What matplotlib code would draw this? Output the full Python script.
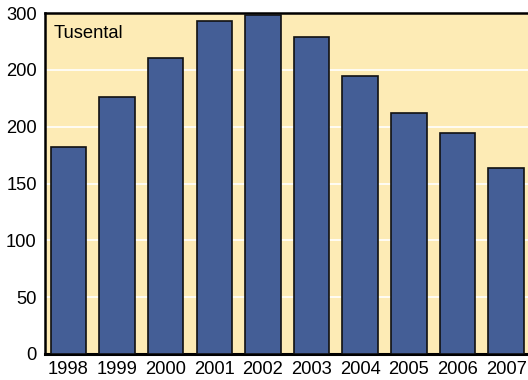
import matplotlib
matplotlib.use("Agg")
import matplotlib.pyplot as plt

years = ["1998", "1999", "2000", "2001", "2002", "2003", "2004", "2005", "2006", "2007"]
values = [182, 226, 260, 293, 298, 279, 245, 212, 194, 164]
ytick_values = [0, 50, 100, 150, 200, 250, 300]
ytick_labels = ["0", "50", "100", "150", "200", "200", "300"]
unit_label = "Tusental"

plt.rcParams['font.family'] = ['Liberation Sans', 'DejaVu Sans']

fig = plt.figure(figsize=(5.28, 3.8), dpi=100)
ax = fig.add_axes([45/528, 26/380, 1 - 45/528, (354-13)/380])
ax.set_facecolor("#FDEBB5")

x = list(range(len(years)))
ax.bar(x, values, width=0.73, color="#445E96", edgecolor="#111111", linewidth=1.2, zorder=3)

ax.set_ylim(0, 300)
ax.set_xlim(-0.48, 9.45)
ax.set_yticks(ytick_values)
ax.set_yticklabels(ytick_labels)
ax.set_xticks(x)
ax.set_xticklabels(years)
ax.tick_params(axis="both", length=0, labelsize=13.2, colors="black")
ax.tick_params(axis="y", pad=6)
ax.tick_params(axis="x", pad=5)

ax.yaxis.grid(True, color="white", linewidth=1.2, zorder=1)
ax.set_axisbelow(True)

for side in ["top", "left"]:
    ax.spines[side].set_linewidth(1.8)
    ax.spines[side].set_color("black")
ax.spines["bottom"].set_linewidth(2.2)
ax.spines["bottom"].set_color("black")
ax.spines["right"].set_visible(False)

ax.text(0.018, 0.965, unit_label, transform=ax.transAxes, ha="left", va="top", fontsize=13.2, color="black")

fig.savefig("out.png", dpi=100)
